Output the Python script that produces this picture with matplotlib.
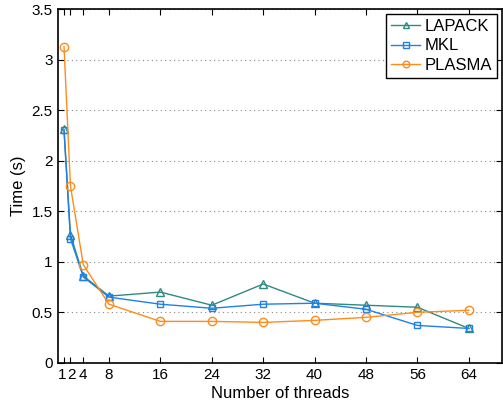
import matplotlib
matplotlib.use('Agg')
import matplotlib.pyplot as plt
import matplotlib.transforms as mtransforms

plt.rcParams['font.family'] = ['Liberation Sans', 'DejaVu Sans']

threads = [1, 2, 4, 8, 16, 24, 32, 40, 48, 56, 64]
lapack = [2.31, 1.27, 0.86, 0.66, 0.70, 0.57, 0.78, 0.59, 0.57, 0.55, 0.34]
mkl = [2.30, 1.23, 0.85, 0.65, 0.58, 0.54, 0.58, 0.59, 0.53, 0.37, 0.34]
plasma = [3.13, 1.75, 0.97, 0.58, 0.41, 0.41, 0.40, 0.42, 0.45, 0.50, 0.52]
xlabels = ['1', '2', '4', '8', '16', '24', '32', '40', '48', '56', '64']
yticks = [0, 0.5, 1, 1.5, 2, 2.5, 3, 3.5]
ylabels = ['0', '0.5', '1', '1.5', '2', '2.5', '3', '3.5']

fig = plt.figure(figsize=(5.03, 4.04), dpi=100)
ax = fig.add_axes([0.1145, 0.102, 0.884, 0.875])

ax.plot(threads, lapack, color='#2f8a80', marker='^', mfc='none', ms=6, lw=1, label='LAPACK')
ax.plot(threads, mkl, color='#2080e8', marker='s', mfc='none', ms=5, lw=1, label='MKL')
ax.plot(threads, plasma, color='#ff8c1a', marker='o', mfc='none', ms=6, lw=1, label='PLASMA')

ax.set_xlim(0, 69.2)
ax.set_ylim(0, 3.5)
ax.set_xticks(threads)
ax.set_xticklabels(xlabels)
ax.set_yticks(yticks)
ax.set_yticklabels(ylabels)
ax.tick_params(direction='in', top=True, right=True, labelsize=11, length=4)

# nudge the crowded "1" and "2" labels apart a little
tl = ax.get_xticklabels()
tl[0].set_transform(tl[0].get_transform() + mtransforms.ScaledTranslation(-1.5/100, 0, fig.dpi_scale_trans))
tl[1].set_transform(tl[1].get_transform() + mtransforms.ScaledTranslation(1.5/100, 0, fig.dpi_scale_trans))

ax.grid(axis='y', linestyle=(0, (1, 3)), color='#888888', lw=0.8)
for s in ax.spines.values():
    s.set_linewidth(1.2)

ax.set_xlabel('Number of threads', fontsize=12, labelpad=3)
ax.set_ylabel('Time (s)', fontsize=12)

leg = ax.legend(loc='upper right', fontsize=12, fancybox=False, edgecolor='black',
                framealpha=1, borderaxespad=0.3, handlelength=1.7, borderpad=0.3,
                labelspacing=0.25, handletextpad=0.3, markerscale=0.8)
leg.get_frame().set_linewidth(1)

fig.savefig('out.png', dpi=100)
